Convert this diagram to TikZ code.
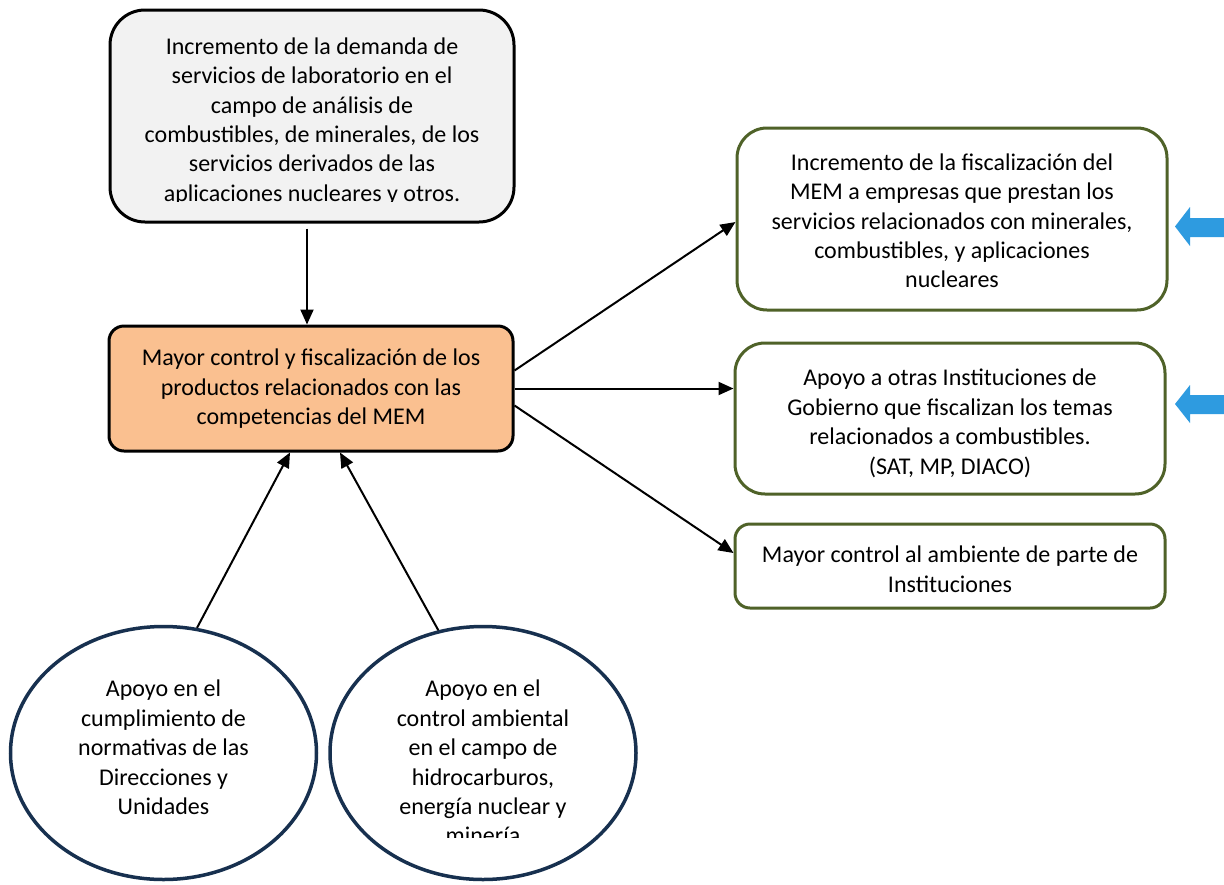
\documentclass[tikz,border=0pt]{standalone}
\usepackage{fontspec}
\setmainfont{Carlito}
\usetikzlibrary{arrows.meta,shapes.geometric,calc}
\definecolor{grayfill}{HTML}{F2F2F2}
\definecolor{orangefill}{HTML}{FAC090}
\definecolor{olivegreen}{HTML}{4F6228}
\definecolor{navyline}{HTML}{17304F}
\definecolor{bluearrow}{HTML}{2E9BE0}
\begin{document}
\begin{tikzpicture}[x=1pt,y=-1pt,
  graybox/.style={draw=black, fill=grayfill, line width=3pt, rounded corners=35pt, inner sep=0pt},
  orangebox/.style={draw=black, fill=orangefill, line width=3pt, rounded corners=15pt, inner sep=0pt},
  greenbox/.style={draw=olivegreen, fill=white, line width=3pt, rounded corners=#1, inner sep=0pt},
  greenbox/.default=30pt,
  circlenode/.style={ellipse, draw=navyline, fill=white, line width=3.5pt, inner sep=0pt, minimum width=306pt, minimum height=253pt},
  txt/.style={align=center, inner sep=0pt, anchor=north, font=\fontsize{24}{29.4}\selectfont},
  conn/.style={line width=2pt, -{Triangle[length=15pt,width=13pt]}},
  bluearr/.style={fill=bluearrow}
]
\useasboundingbox (0,0) rectangle (1224,884);
\fill[white] (0,0) rectangle (1224,884);

% shapes
\node[graybox, minimum width=404pt, minimum height=212pt] (demanda) at (312,116) {};
\node[orangebox, minimum width=404pt, minimum height=125pt] (mayor) at (311,388.5) {};
\node[greenbox, minimum width=430pt, minimum height=182pt] (fisc) at (952,219) {};
\node[greenbox, minimum width=430pt, minimum height=151pt] (apoyo) at (950,418.5) {};
\node[greenbox=15pt, minimum width=430pt, minimum height=84pt] (ambiente) at (950,566) {};
\node[circlenode] (e1) at (163.5,753) {};
\node[circlenode] (e2) at (483,753) {};

% texts
\begin{scope}
\clip (110,10) rectangle (514,201.5);
\node[txt] (demandaT) at (312,37.5) {Incremento de la demanda de\\servicios de laboratorio en el\\campo de análisis de\\combustibles, de minerales, de los\\servicios derivados de las\\aplicaciones nucleares y otros.};
\end{scope}
\node[txt] (mayorT) at (311,349) {Mayor control y fiscalización de los\\productos relacionados con las\\competencias del MEM};
\node[txt] (fiscT) at (952,153.5) {Incremento de la fiscalización del\\MEM a empresas que prestan los\\servicios relacionados con minerales,\\combustibles, y aplicaciones\\nucleares};
\node[txt] (apoyoT) at (950,369) {Apoyo a otras Instituciones de\\Gobierno que fiscalizan los temas\\relacionados a combustibles.\\(SAT, MP, DIACO)};
\node[txt] (ambienteT) at (950,546) {Mayor control al ambiente de parte de\\Instituciones};
\node[txt] (e1T) at (163.5,680) {Apoyo en el\\cumplimiento de\\normativas de las\\Direcciones y\\Unidades};
\begin{scope}
\clip (330,600) rectangle (640,837);
\node[txt] (e2T) at (483,680) {Apoyo en el\\control ambiental\\en el campo de\\hidrocarburos,\\energía nuclear y\\minería};
\end{scope}

% connectors
\draw[conn] ($(demanda.south)+(-5,5)$) -- ($(mayor.north)+(-4,0)$);
\draw[conn] ($(mayor.east)+(0,-18)$) -- ($(fisc.west)+(0,3)$);
\draw[conn] (mayor.east) -- (mayor.east -| apoyo.west);
\draw[conn] ($(mayor.east)+(0,17)$) -- ($(ambiente.west)+(0,-13)$);
\draw[conn] (e1.75) -- ($(mayor.south)+(-21,0)$);
\draw[conn] (e2.110) -- ($(mayor.south)+(29,0)$);

% blue block arrows
\fill[bluearr] (1224,218) -- (1190,218) -- (1190,207) -- (1175,226.5) -- (1190,246) -- (1190,237) -- (1224,237) -- cycle;
\fill[bluearr] (1224,395) -- (1190,395) -- (1190,385) -- (1175,404) -- (1190,423) -- (1190,414) -- (1224,414) -- cycle;
\end{tikzpicture}
\end{document}
